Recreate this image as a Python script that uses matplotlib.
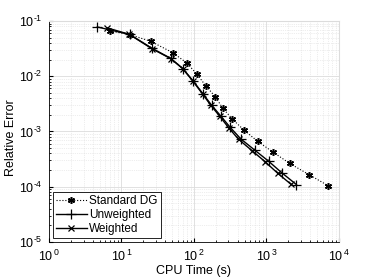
import matplotlib.pyplot as plt

# values (log-log)
std_t = [6.9, 13.1, 25.2, 50.8, 79.3, 110, 146, 197, 249, 338, 490, 755, 1243, 2107, 3855, 7130]
std_err = [0.066, 0.0567, 0.043, 0.0268, 0.0175, 0.0109, 0.0067, 0.00426, 0.00266,
           0.00168, 0.00106, 0.000665, 0.00042, 0.000263, 0.000166, 0.000104]

unw_t = [4.64, 13.0, 26.5, 48, 70, 97, 135, 175, 235, 318, 445, 690, 1070, 1620, 2600]
unw_err = [0.078, 0.057, 0.032, 0.021, 0.0138, 0.0083, 0.0047, 0.003, 0.0019,
           0.00118, 0.00073, 0.00046, 0.00029, 0.00018, 0.000109]

wei_t = [6.38, 12.8, 26.1, 47.6, 69.8, 95.9, 132, 170, 226, 301, 413, 631, 964, 1426, 2178]
wei_err = [0.075, 0.0574, 0.0317, 0.0209, 0.0138, 0.00826, 0.00475, 0.003, 0.0019,
           0.00117, 0.000722, 0.000451, 0.000282, 0.000176, 0.000111]

plt.rcParams['font.family'] = 'Liberation Sans'
plt.rcParams['mathtext.fontset'] = 'custom'
plt.rcParams['mathtext.rm'] = 'Liberation Sans'
plt.rcParams['mathtext.it'] = 'Liberation Sans'
plt.rcParams['mathtext.default'] = 'rm'
plt.rcParams['axes.unicode_minus'] = False

fig = plt.figure(figsize=(3.74, 2.8), dpi=100)
ax = fig.add_axes([0.131, 0.136, 0.775, 0.789])

ax.plot(std_t, std_err, color='black', linestyle=':', linewidth=0.8,
        marker=(6, 2, 0), markersize=5, markeredgewidth=1.1, label='Standard DG')
ax.plot(unw_t, unw_err, color='black', linestyle='-', linewidth=1.0,
        marker='+', markersize=7, markeredgewidth=0.9, label='Unweighted')
ax.plot(wei_t, wei_err, color='black', linestyle='-', linewidth=1.0,
        marker='x', markersize=5, markeredgewidth=0.9, label='Weighted')

ax.set_xscale('log')
ax.set_yscale('log')
ax.set_xlim(1, 1e4)
ax.set_ylim(1e-5, 1e-1)
ax.set_xticks([1, 10, 100, 1000, 10000])
ax.set_yticks([1e-5, 1e-4, 1e-3, 1e-2, 1e-1])
ax.set_xticklabels([r'$10^{\,%d}$' % e for e in range(0, 5)])
ax.set_yticklabels([r'$10^{\text{-}%d}$' % e for e in range(5, 0, -1)])

ax.grid(True, which='major', color='#dcdcdc', linewidth=0.6)
ax.grid(True, which='minor', color='#dcdcdc', linewidth=0.5, linestyle=':')
ax.set_axisbelow(True)
ax.tick_params(which='both', direction='in', top=False, right=False, labelsize=9)
ax.tick_params(which='major', length=3)
ax.tick_params(which='minor', length=1.5)
ax.tick_params(axis='x', pad=5)
ax.tick_params(axis='y', pad=5)
ax.spines['left'].set_linewidth(0.6)
ax.spines['bottom'].set_linewidth(0.6)
ax.spines['top'].set_color('#dcdcdc')
ax.spines['right'].set_color('#dcdcdc')

ax.set_xlabel('CPU Time (s)', fontsize=9, labelpad=1)
ax.set_ylabel('Relative Error', fontsize=9)
ax.yaxis.set_label_coords(-0.11, 0.47)

leg = ax.legend(loc='lower left', fontsize=8.5, fancybox=False, framealpha=1,
                edgecolor='black', borderaxespad=0.3, handlelength=2.6,
                handletextpad=0.2, labelspacing=0.15, borderpad=0.3)
leg.get_frame().set_linewidth(0.6)

fig.savefig('out.png', dpi=100)
